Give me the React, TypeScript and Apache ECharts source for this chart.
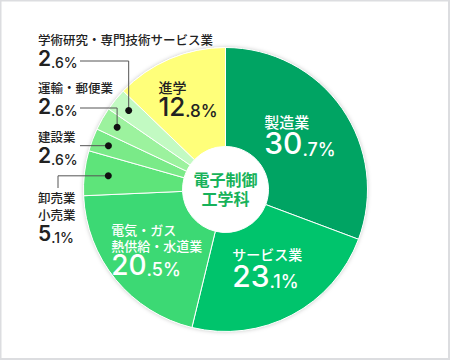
import React, { useEffect, useRef } from "react";
import * as echarts from "echarts";

const categories = [
  "製造業",
  "サービス業",
  "電気・ガス\n熱供給・水道業",
  "卸売業\n小売業",
  "建設業",
  "運輸・郵便業",
  "学術研究・専門技術サービス業",
  "進学",
];
const values = [30.7, 23.1, 20.5, 5.1, 2.6, 2.6, 2.6, 12.8];
const colors = ["#00a463", "#00c46c", "#3cd974", "#5ee47a", "#7aea88", "#9cf29e", "#c2fac2", "#ffff7a"];
const insideIdx = [0, 1, 2, 7];
const centerTitle = "電子制御\n工学科";

// layout (not data)
const CX = 225.5;
const CY = 189.5;
const R0 = 43;
const R1 = 142;
const insideShift: Record<number, [number, number]> = { 0: [-4, 0], 1: [-3, -6], 2: [5, 0], 7: [0, -3] };
const outsideLayout = [
  { i: 6, top: 31, lineX: 80, lineY: 61, dotR: 125 },
  { i: 5, top: 79, lineX: 80, lineY: 108, dotR: 125 },
  { i: 4, top: 128, lineX: 80, lineY: null as number | null, dotR: 125 },
  { i: 3, top: 189, lineX: 58, lineY: null as number | null, dotR: 118, down: 188 },
];

const JP = "'Noto Sans CJK JP', 'Noto Sans', sans-serif";
const NUM = "Inter, Roboto, 'Noto Sans', sans-serif";

function splitVal(v: number): [string, string] {
  const s = v.toFixed(1);
  const [a, b] = s.split(".");
  return [a, "." + b + "%"];
}

function midAngle(idx: number) {
  const total = values.reduce((s, v) => s + v, 0);
  let cum = 0;
  for (let k = 0; k < idx; k++) cum += values[k];
  const frac = (cum + values[idx] / 2) / total;
  return frac * Math.PI * 2; // clockwise from top
}

export default function App() {
  const ref = useRef<HTMLDivElement>(null);
  useEffect(() => {
    if (!ref.current) return;
    const chart = echarts.init(ref.current, undefined, { renderer: "svg" });

    const data = categories.map((name, i) => {
      const inside = insideIdx.includes(i);
      const dark = i === 7;
      const col = dark ? "#222" : "#fff";
      const big = i === 7 ? 26 : i === 2 ? 28 : 30;
      const small = i === 7 ? 17 : 18;
      const nameSize = i === 2 ? 13 : i === 0 ? 15 : 14;
      return {
        name,
        value: values[i],
        itemStyle: { color: colors[i] },
        label: {
          show: inside,
          color: col,
          rich: {
            n: { fontSize: nameSize, fontFamily: JP, fontWeight: 500, color: col, lineHeight: i === 2 ? 16 : 19, align: "left" },
            a: { fontSize: big, fontFamily: NUM, fontWeight: 500, color: col, lineHeight: big - 3, align: "left", verticalAlign: "bottom" },
            b: { fontSize: small, fontFamily: NUM, fontWeight: 500, color: col, lineHeight: big - 5, align: "left", verticalAlign: "bottom" },
          },
        },
      };
    });

    const graphics: any[] = [
      {
        type: "rect",
        shape: { x: 0.5, y: 0.5, width: 448.5, height: 358.5 },
        style: { fill: "none", stroke: "#dcdde0", lineWidth: 2 },
        z: 0,
      },
      {
        type: "text",
        x: CX,
        y: CY - 1,
        style: {
          text: centerTitle,
          fill: "#17b25a",
          font: `bold 16px ${JP}`,
          align: "center",
          verticalAlign: "middle",
          lineHeight: 19,
        },
        z: 10,
      },
    ];

    outsideLayout.forEach((o) => {
      const ang = midAngle(o.i);
      const dx = CX + Math.sin(ang) * o.dotR;
      const dy = CY - Math.cos(ang) * o.dotR;
      const [ip, dp] = splitVal(values[o.i]);
      const nameLines = categories[o.i].split("\n").map((l) => `{n|${l}}`).join("\n");
      graphics.push({
        type: "text",
        x: 38,
        y: o.top,
        style: {
          text: `${nameLines}\n{a|${ip}}{b|${dp}}`,
          verticalAlign: "top",
          align: "left",
          rich: {
            n: { fontSize: 12.5, fontFamily: JP, fontWeight: 500, fill: "#222", lineHeight: 17, align: "left" },
            a: { fontSize: 21, fontFamily: NUM, fontWeight: 600, fill: "#222", lineHeight: 21, align: "left", verticalAlign: "bottom" },
            b: { fontSize: 14, fontFamily: NUM, fontWeight: 500, fill: "#222", lineHeight: 19, align: "left", verticalAlign: "bottom" },
          },
        },
        z: 10,
      });
      let pts: number[][];
      if (o.down !== undefined) {
        pts = [
          [dx, dy],
          [o.lineX, dy],
          [o.lineX, o.down],
        ];
      } else {
        const ly = o.lineY === null ? dy : o.lineY;
        pts = [
          [o.lineX, ly],
          [dx, ly],
          [dx, dy],
        ];
      }
      graphics.push({
        type: "polyline",
        shape: { points: pts },
        style: { stroke: "#555", lineWidth: 1, fill: "none" },
        z: 10,
      });
      graphics.push({
        type: "circle",
        shape: { cx: dx, cy: dy, r: 3.5 },
        style: { fill: "#111" },
        z: 11,
      });
    });

    chart.setOption({
      animation: false,
      backgroundColor: "#fff",
      series: [
        {
          type: "pie",
          silent: true,
          center: [CX, CY],
          radius: [0, R1],
          data: [{ value: 1, itemStyle: { color: "#fff", shadowBlur: 4, shadowColor: "rgba(0,0,0,0.25)" } }],
          label: { show: false },
          labelLine: { show: false },
          z: 1,
        },
        {
          type: "pie",
          center: [CX, CY],
          radius: [R0, R1],
          startAngle: 90,
          clockwise: true,
          avoidLabelOverlap: false,
          itemStyle: { borderColor: "#fff", borderWidth: 1 },
          label: {
            position: "inside",
            formatter: (p: any) => {
              const [ip, dp] = splitVal(p.value);
              const nameLines = String(p.name)
                .split("\n")
                .map((l: string) => `{n|${l}}`)
                .join("\n");
              return `${nameLines}\n{a|${ip}}{b|${dp}}`;
            },
          },
          labelLayout: (params: any) => {
            const s = insideShift[params.dataIndex];
            return s ? { dx: s[0], dy: s[1] } : {};
          },
          labelLine: { show: false },
          data,
          z: 2,
        },
      ],
      graphic: graphics,
    });
    return () => chart.dispose();
  }, []);
  return <div ref={ref} style={{ position: "absolute", left: 0, top: 0, width: 450, height: 360 }} />;
}
